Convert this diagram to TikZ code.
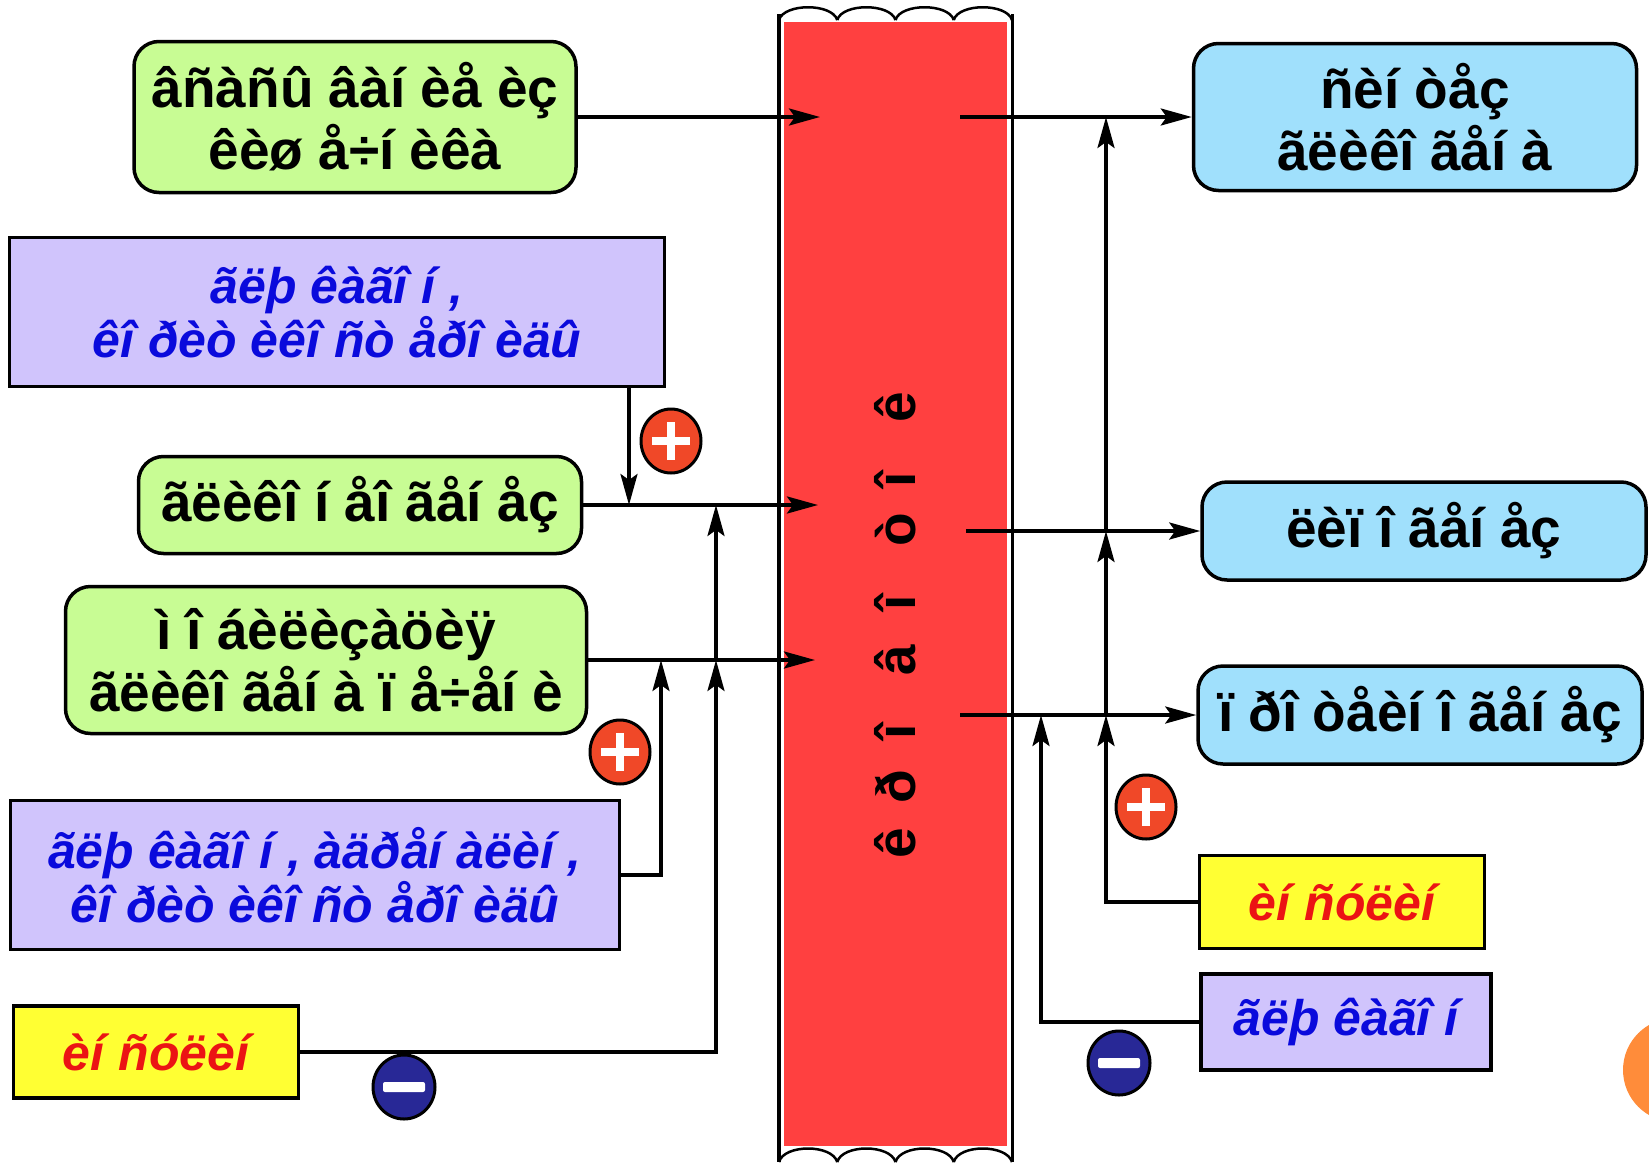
\documentclass[tikz,border=0pt]{standalone}
\usepackage{fontspec}
\setmainfont{Liberation Sans}
\usepackage{tikz}
\usetikzlibrary{positioning, shapes.geometric, arrows.meta}

\definecolor{boxGreen}{RGB}{200,252,148}
\definecolor{boxPurple}{RGB}{208,196,252}
\definecolor{boxBlue}{RGB}{160,224,252}
\definecolor{boxYellow}{RGB}{255,255,51}
\definecolor{barRed}{RGB}{255,64,64}
\definecolor{textBlue}{RGB}{10,10,220}
\definecolor{textRed}{RGB}{235,20,20}
\definecolor{plusRed}{RGB}{240,72,40}
\definecolor{minusBlue}{RGB}{40,40,150}
\definecolor{slideOrange}{RGB}{255,140,58}

\tikzset{
  >={Stealth[length=31pt, width=17pt, inset=6pt]},
  link/.style={line width=3.5pt},
  bigText/.style={font=\fontsize{55}{62}\selectfont\bfseries},
  hormText/.style={font=\fontsize{50}{54}\selectfont\bfseries\itshape},
  barText/.style={font=\fontsize{55}{62}\selectfont\bfseries, anchor=base, rotate=90},
  greenBox/.style={rectangle, rounded corners=25pt, draw, line width=3.5pt, fill=boxGreen, align=center, bigText},
  blueBox/.style={rectangle, rounded corners=25pt, draw, line width=3.5pt, fill=boxBlue, align=center, bigText},
  purpleBox/.style={rectangle, draw, line width=3.5pt, fill=boxPurple, align=center, hormText, text=textBlue},
  yellowBox/.style={rectangle, draw, line width=3.5pt, fill=boxYellow, align=center, hormText, text=textRed},
  plusSign/.style={ellipse, draw=black, line width=3pt, fill=plusRed, minimum width=60pt, minimum height=64pt, inner sep=0pt,
    path picture={
      \draw[white, line width=8pt] ([xshift=-19pt]path picture bounding box.center) -- ([xshift=19pt]path picture bounding box.center);
      \draw[white, line width=8pt] ([yshift=-19pt]path picture bounding box.center) -- ([yshift=19pt]path picture bounding box.center);
    }},
  minusSign/.style={ellipse, draw=black, line width=3pt, fill=minusBlue, minimum width=62pt, minimum height=64pt, inner sep=0pt,
    path picture={
      \fill[white, rounded corners=2pt] ([xshift=-21pt, yshift=-5pt]path picture bounding box.center) rectangle ([xshift=21pt, yshift=5pt]path picture bounding box.center);
    }}
}

\begin{document}
\begin{tikzpicture}[x=1pt, y=-1pt]
        \useasboundingbox (0,0) rectangle (1649,1162);
        \fill[white] (0,0) rectangle (1649,1162);

        % blood flow bar
        \fill[barRed] (784, 22) rectangle (1007, 1146);
        \draw[line width=3.5pt] (779, 14) -- (779, 1162);
        \draw[line width=3pt] (1012, 14) -- (1012, 1162);
        \foreach \x in {779, 837.25, 895.5, 953.75} {
          \draw[line width=2.5pt] (\x, 20) .. controls (\x+5, 3) and (\x+53, 3) .. (\x+58.25, 20);
          \draw[line width=2.5pt] (\x, 1162) .. controls (\x+5, 1144) and (\x+53, 1144) .. (\x+58.25, 1162);
        }
        \foreach \ch/\yy [count=\i] in {ê/843, ð/787, î/732, â/660, î/603, ò/530, î/480, ê/407}
          \node[barText] (barLetter\i) at (915, \yy) {\ch};

        \fill[slideOrange] (1675, 1070) circle (52);

        % left side
        \node[greenBox, minimum width=442pt, minimum height=151pt] (absorbNode) at (355, 117) {âñàñû âàí èå èç\\êèø å÷í èêà};
        \node[purpleBox, minimum width=655pt, minimum height=149pt] (glucCortNode) at (337, 312) {ãëþ êàãî í ,\\êî ðèò èêî ñò åðî èäû};
        \node[greenBox, minimum width=443pt, minimum height=97pt] (gluconeoNode) at (360, 505) {ãëèêî í åî ãåí åç};
        \node[greenBox, minimum width=521pt, minimum height=147pt] (mobilNode) at (326, 660) {ì î áèëèçàöèÿ\\ãëèêî ãåí à ï å÷åí è};
        \node[purpleBox, minimum width=609pt, minimum height=149pt] (glucAdrNode) at (315, 875) {ãëþ êàãî í , àäðåí àëèí ,\\êî ðèò èêî ñò åðî èäû};
        \node[yellowBox, minimum width=285pt, minimum height=92pt] (insulinLeft) at (156, 1052) {èí ñóëèí};

        % right side
        \node[blueBox, minimum width=443pt, minimum height=147pt] (synthNode) at (1415, 117) {ñèí òåç\\ãëèêî ãåí à};
        \node[blueBox, minimum width=444pt, minimum height=98pt] (lipoNode) at (1424, 531) {ëèï î ãåí åç};
        \node[blueBox, minimum width=444pt, minimum height=98pt] (protNode) at (1420, 715) {ï ðî òåèí î ãåí åç};
        \node[yellowBox, minimum width=285pt, minimum height=93pt] (insulinRight) at (1342, 902) {èí ñóëèí};
        \node[purpleBox, minimum width=290pt, minimum height=96pt] (glucagonRight) at (1346, 1022) {ãëþ êàãî í};

        % points in the bar and on the lines
        \coordinate (inA) at (820, 117);
        \coordinate (inB) at (818, 505);
        \coordinate (inC) at (815, 660);
        \coordinate (outA) at (960, 117);
        \coordinate (outB) at (966, 531);
        \coordinate (outC) at (960, 715);
        \coordinate (glucJoin) at (629, 505);
        \coordinate (adrJoin) at (661, 660);
        \coordinate (insJoinC) at (716, 660);
        \coordinate (insJoinB) at (716, 505);
        \coordinate (insJoinR) at (1106, 715);
        \coordinate (insJoinL) at (1106, 531);
        \coordinate (insJoinS) at (1106, 117);
        \coordinate (glucJoinR) at (1041, 715);

        \draw[link] (absorbNode) edge[->] (inA);
        \draw[link] (gluconeoNode) edge[->] (inB);
        \draw[link] (mobilNode) edge[->] (inC);
        \draw[link] (outA) edge[->] (synthNode);
        \draw[link] (outB) edge[->] (lipoNode);
        \draw[link] (outC) edge[->] (protNode);

        \draw[link, ->] (glucCortNode.south -| glucJoin) -- (glucJoin);
        \draw[link, ->] (glucAdrNode) -| (adrJoin);
        \draw[link, ->] (insulinLeft) -| (insJoinC);
        \draw[link, ->] (insJoinC) -- (insJoinB);
        \draw[link, ->] (insulinRight) -| (insJoinR);
        \draw[link, ->] (insJoinR) -- (insJoinL);
        \draw[link, ->] (insJoinL) -- (insJoinS);
        \draw[link, ->] (glucagonRight) -| (glucJoinR);

        % signs
        \node[plusSign] (plusA) at (671, 441) {};
        \node[plusSign] (plusB) at (620, 752) {};
        \node[plusSign] (plusC) at (1146, 807) {};
        \node[minusSign] (minusA) at (404, 1087) {};
        \node[minusSign] (minusB) at (1119, 1063) {};
      \end{tikzpicture}
\end{document}
